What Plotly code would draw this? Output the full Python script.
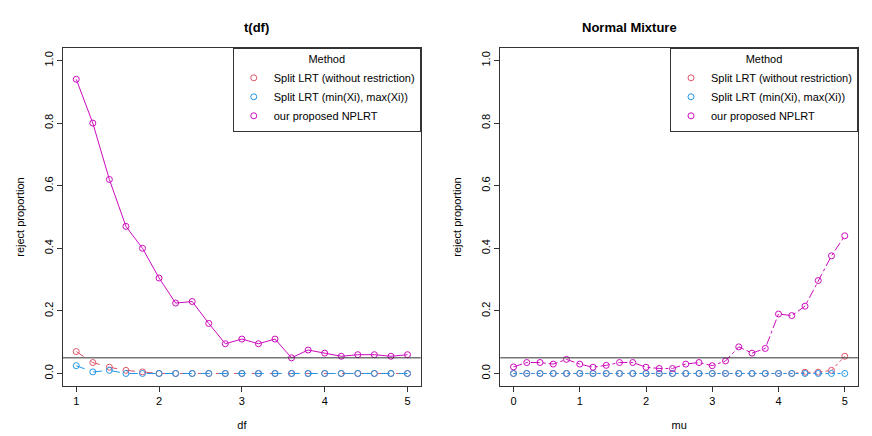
import plotly.graph_objects as go
from plotly.subplots import make_subplots

df = [1 + 0.2 * i for i in range(21)]
t_split = [0.07, 0.035, 0.02, 0.01, 0.005] + [0.0] * 16
t_minmax = [0.025, 0.005, 0.01, 0.0, 0.0] + [0.0] * 16
t_nplrt = [0.94, 0.80, 0.62, 0.47, 0.40, 0.305, 0.225, 0.23, 0.16, 0.095, 0.11,
           0.095, 0.11, 0.05, 0.075, 0.065, 0.055, 0.06, 0.06, 0.055, 0.06]

mu = [0.2 * i for i in range(26)]
n_split = [0.0] * 22 + [0.004, 0.004, 0.01, 0.055]
n_minmax = [0.0] * 26
n_nplrt = [0.021, 0.035, 0.035, 0.03, 0.045, 0.03, 0.02, 0.026, 0.035, 0.035, 0.02,
           0.016, 0.016, 0.03, 0.035, 0.025, 0.04, 0.085, 0.065, 0.08, 0.19,
           0.185, 0.215, 0.297, 0.376, 0.44]

names = ["Split LRT (without restriction)", "Split LRT (min(Xi), max(Xi))", "our proposed NPLRT"]
colors = ["#DF536B", "#2297E6", "#CD0BBC"]

fig = make_subplots(rows=1, cols=2, horizontal_spacing=0.1)

panels = [(1, df, [t_split, t_minmax, t_nplrt], ["dash", "dash", "solid"], "legend"),
          (2, mu, [n_split, n_minmax, n_nplrt], ["dot", "dot", "dashdot"], "legend2")]
for col, x, series, dashes, leg in panels:
    for name, c, y, d in zip(names, colors, series, dashes):
        fig.add_trace(go.Scatter(
            x=x, y=y, mode="lines+markers", showlegend=False,
            line=dict(color=c, width=1, dash=d),
            marker=dict(symbol="circle-open", size=6, color=c, line=dict(width=1)),
        ), row=1, col=col)
        # legend entry: marker only
        fig.add_trace(go.Scatter(
            x=[None], y=[None], name=name, mode="markers", legend=leg,
            marker=dict(symbol="circle-open", size=6, color=c, line=dict(width=1)),
        ), row=1, col=col)
    fig.add_hline(y=0.05, line=dict(color="#333", width=1), row=1, col=col)

axis = dict(showgrid=False, zeroline=False, showline=True, mirror=True, linecolor="#333",
            ticks="outside", ticklen=5, tickcolor="#333", tickfont=dict(size=11, color="#000"))
fig.update_xaxes(**axis)
fig.update_yaxes(**axis, range=[-0.04, 1.04], tickvals=[0, 0.2, 0.4, 0.6, 0.8, 1.0],
                 ticktext=["0.0", "0.2", "0.4", "0.6", "0.8", "1.0"], tickangle=-90,
                 title=dict(text="reject proportion", font=dict(size=11)))
fig.update_xaxes(range=[0.84, 5.16], tickvals=[1, 2, 3, 4, 5], title=dict(text="df", font=dict(size=11)), row=1, col=1)
fig.update_xaxes(range=[-0.2, 5.2], tickvals=[0, 1, 2, 3, 4, 5], title=dict(text="mu", font=dict(size=11)), row=1, col=2)

leg = dict(title=dict(text="Method", side="top center", font=dict(size=11)), font=dict(size=11),
           bordercolor="#333", borderwidth=1, bgcolor="white", xanchor="right", yanchor="top",
           y=1.0, tracegroupgap=0, itemwidth=30)
fig.update_layout(
    legend=dict(**leg, x=0.45),
    legend2=dict(**leg, x=1.0),
    annotations=[
        dict(text="<b>t(df)</b>", x=0.225, y=1.09, xref="paper", yref="paper", showarrow=False, font=dict(size=13)),
        dict(text="<b>Normal Mixture</b>", x=0.775, y=1.09, xref="paper", yref="paper", showarrow=False, font=dict(size=13)),
    ],
    width=872, height=436, margin=dict(l=50, r=22, t=40, b=58),
    plot_bgcolor="white", paper_bgcolor="white",
    font=dict(family="Liberation Sans, Arial", color="#000"),
)

fig.write_html("out.html")
